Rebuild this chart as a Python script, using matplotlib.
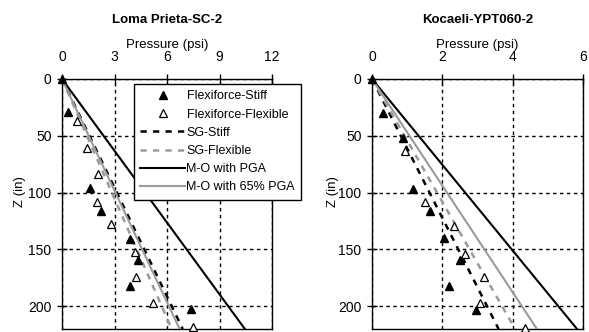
import matplotlib
matplotlib.use("Agg")
import matplotlib.pyplot as plt
import numpy as np

plt.rcParams['font.family'] = ['Liberation Sans', 'DejaVu Sans']

# ---- data (depth in inches, pressure in psi) ----
# Loma Prieta-SC-2
lp_ff_stiff_z = [0, 29, 96, 116, 141, 159, 182, 202]
lp_ff_stiff_p = [0, 0.36, 1.6, 2.23, 3.89, 4.36, 3.89, 7.35]
lp_ff_flex_z = [37, 61, 84, 108, 128, 152, 174, 197, 218]
lp_ff_flex_p = [0.84, 1.45, 2.04, 1.98, 2.8, 4.17, 4.23, 5.22, 7.5]
lp_line_z = [0, 220]
lp_sg_stiff = [0, 6.9]
lp_sg_flex = [0, 6.27]
lp_mo_pga = [0, 10.45]
lp_mo_65 = [0, 6.72]

# Kocaeli-YPT060-2
ko_ff_stiff_z = [0, 30, 52, 97, 116, 140, 159, 182, 203]
ko_ff_stiff_p = [0, 0.3, 0.87, 1.18, 1.65, 2.05, 2.5, 2.19, 2.95]
ko_ff_flex_z = [63, 108, 129, 154, 174, 197, 219]
ko_ff_flex_p = [0.93, 1.51, 2.33, 2.64, 3.18, 3.07, 4.35]
ko_line_z = [0, 220]
ko_sg_stiff = [0, 3.6]
ko_sg_flex = [0, 4.07]
ko_mo_pga = [0, 5.83]
ko_mo_65 = [0, 4.69]

GRAY = '#9a9a9a'


def draw_panel(ax, title, xmax, xstep, fs_z, fs_p, ff_z, ff_p, lz, sgs, sgf, mo, mo65):
    ax.plot(fs_p, fs_z, linestyle='none', marker='^', ms=6, mfc='black', mec='black',
            label='Flexiforce-Stiff', clip_on=False, zorder=5)
    ax.plot(ff_p, ff_z, linestyle='none', marker='^', ms=6, mfc='white', mec='black',
            mew=0.9, label='Flexiforce-Flexible', clip_on=False, zorder=5)
    ax.plot(sgs, lz, color='black', lw=1.8, dashes=(2.5, 2.5), label='SG-Stiff', zorder=3)
    ax.plot(sgf, lz, color=GRAY, lw=1.8, dashes=(2.5, 2.5), label='SG-Flexible', zorder=3)
    ax.plot(mo, lz, color='black', lw=1.5, label='M-O with PGA', zorder=4)
    ax.plot(mo65, lz, color=GRAY, lw=1.5, label='M-O with 65% PGA', zorder=4)

    ax.set_xlim(0, xmax)
    ax.set_ylim(220, 0)
    ax.set_xticks(np.arange(0, xmax + 0.01, xstep))
    ax.set_yticks([0, 50, 100, 150, 200])
    ax.xaxis.tick_top()
    ax.xaxis.set_label_position('top')
    ax.tick_params(direction='inout', length=7, width=1, labelsize=10, pad=4)
    ax.tick_params(axis='x', pad=7)
    ax.grid(True, color='black', linestyle=(0, (2.5, 2.5)), linewidth=1)
    for s in ax.spines.values():
        s.set_linewidth(1)
    ax.set_xlabel('Pressure (psi)', fontsize=9.5, labelpad=2)
    ax.set_title(title, fontsize=9.5, fontweight='bold', pad=40)
    ax.set_ylabel('Z (in)', fontsize=9.5)


fig = plt.figure(figsize=(5.89, 3.32), dpi=100)
ax1 = fig.add_axes([62/589, 3/332, 210/589, 250/332])
ax2 = fig.add_axes([372/589, 3/332, 211/589, 250/332])

draw_panel(ax1, 'Loma Prieta-SC-2', 12, 3, lp_ff_stiff_z, lp_ff_stiff_p,
           lp_ff_flex_z, lp_ff_flex_p, lp_line_z, lp_sg_stiff, lp_sg_flex, lp_mo_pga, lp_mo_65)
draw_panel(ax2, 'Kocaeli-YPT060-2', 6, 2, ko_ff_stiff_z, ko_ff_stiff_p,
           ko_ff_flex_z, ko_ff_flex_p, ko_line_z, ko_sg_stiff, ko_sg_flex, ko_mo_pga, ko_mo_65)

ax1.yaxis.set_label_coords(-0.17, 0.55)
ax2.yaxis.set_label_coords(-0.156, 0.55)

leg = ax1.legend(loc='upper left', bbox_to_anchor=(134/589, 1 - 84/332),
                 bbox_transform=fig.transFigure, fontsize=9, frameon=True, fancybox=False,
                 edgecolor='black', framealpha=1, handlelength=3.6, handletextpad=0.1,
                 labelspacing=0.5, borderpad=0.5, borderaxespad=0)
leg.get_frame().set_linewidth(1)
leg.set_zorder(10)

fig.savefig('out.png', dpi=100)
